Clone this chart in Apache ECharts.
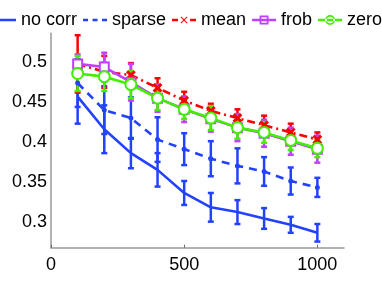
<!DOCTYPE html>
<html><head><meta charset="utf-8">
<script src="https://cdn.jsdelivr.net/npm/echarts@6/dist/echarts.min.js"></script>
<style>html,body{margin:0;padding:0;background:#fff}#c{width:382px;height:287px}</style>
</head><body><div id="c"></div>
<script>
const xs = [100,200,300,400,500,600,700,800,900,1000];
const seriesNames = ['no corr','sparse','mean','frob','zero'];
const noCorr     = [0.457,0.416,0.386,0.365,0.336,0.318,0.312,0.304,0.296,0.286];
const noCorrErr  = [0.034,0.030,0.019,0.021,0.015,0.018,0.015,0.013,0.010,0.011];
const sparse     = [0.474,0.440,0.430,0.403,0.391,0.379,0.370,0.363,0.351,0.343];
const sparseErr  = [0.030,0.030,0.026,0.028,0.020,0.022,0.022,0.018,0.017,0.012];
const mean       = [0.498,0.488,0.484,0.468,0.452,0.439,0.430,0.421,0.412,0.403];
const meanErr    = [0.036,0.020,0.015,0.012,0.011,0.009,0.011,0.012,0.011,0.009];
const frob       = [0.498,0.494,0.475,0.455,0.441,0.429,0.418,0.411,0.401,0.391];
const frobErr    = [0.012,0.018,0.023,0.017,0.016,0.016,0.017,0.017,0.017,0.017];
const zero       = [0.486,0.482,0.472,0.455,0.441,0.430,0.418,0.412,0.402,0.392];
const zeroErr    = [0.022,0.018,0.017,0.015,0.012,0.015,0.014,0.013,0.012,0.011];
const xTicks = [0,500,1000];
const yTicks = [0.3,0.35,0.4,0.45,0.5];

const colors = ['#2242ff','#2242ff','#ff0000','#c040ff','#44ee00'];
const vals = [noCorr,sparse,mean,frob,zero];
const errs = [noCorrErr,sparseErr,meanErr,frobErr,zeroErr];
const lineTypes = ['solid',[8,6],[8,4,2,4],'solid','solid'];
const xPath = 'path://M0,1L1,0L5,4L9,0L10,1L6,5L10,9L9,10L5,6L1,10L0,9L4,5Z';
const symbols = ['none','circle',xPath,'emptyRect','emptyCircle'];
const symSizes = [0,3,7,9,11];

// legend icons (24x12 box; tiny corner triangles fix the bounding box)
const C = 'M0,0L0.01,0L0,0.01Z M24,12L23.99,12L24,11.99Z ';
const legendIcons = [
  'path://' + C + 'M0,4.7H24V7.3H0Z',
  'path://' + C + 'M0,4.7H5V7.3H0Z M9.5,4.7H14.5V7.3H9.5Z M19,4.7H24V7.3H19Z',
  'path://' + C + 'M0,4.7H6V7.3H0Z M18,4.7H24V7.3H18Z M8.5,3.2L9.2,2.5L12,5.3L14.8,2.5L15.5,3.2L12.7,6L15.5,8.8L14.8,9.5L12,6.7L9.2,9.5L8.5,8.8L11.3,6Z',
  'path://' + C + 'M0,4.8H24V7.2H0Z M7.5,1.5H16.5V10.5H7.5Z M9.3,3.3V8.7H14.7V3.3Z',
  'path://' + C + 'M0,4.8H24V7.2H0Z M17,6A5,5 0 1,0 7,6A5,5 0 1,0 17,6Z M15.2,6A3.2,3.2 0 1,1 8.8,6A3.2,3.2 0 1,1 15.2,6Z'
];

function errSeries(i){
  return {
    type:'custom', silent:true,
    encode:{x:0,y:[1,2]},
    data: xs.map((x,k)=>[x, vals[i][k]-errs[i][k], vals[i][k]+errs[i][k]]),
    renderItem:(params,api)=>{
      const x=api.value(0);
      const lo=api.coord([x,api.value(1)]);
      const hi=api.coord([x,api.value(2)]);
      const w=3;
      const st={stroke:colors[i],lineWidth:2.5};
      return {type:'group',children:[
        {type:'line',shape:{x1:lo[0],y1:lo[1],x2:hi[0],y2:hi[1]},style:st},
        {type:'line',shape:{x1:lo[0]-w,y1:lo[1],x2:lo[0]+w,y2:lo[1]},style:st},
        {type:'line',shape:{x1:hi[0]-w,y1:hi[1],x2:hi[0]+w,y2:hi[1]},style:st}
      ]};
    }
  };
}
const series=[];
for(let i=0;i<5;i++){
  series.push(errSeries(i));
  series.push({
    type:'line', name:seriesNames[i],
    data: xs.map((x,k)=>[x, vals[i][k]]),
    symbol:symbols[i], symbolSize:symSizes[i], showSymbol:i>0,
    lineStyle:{color:colors[i],width:2.6,type:lineTypes[i]},
    itemStyle:{color:colors[i],borderColor:colors[i],borderWidth:2},
    animation:false
  });
}
const chart=echarts.init(document.getElementById('c'),null,{renderer:'canvas'});
chart.setOption({
  animation:false,
  backgroundColor:'#fff',
  legend:{
    data:seriesNames.map((n,i)=>({name:n,icon:legendIcons[i],itemStyle:{color:colors[i],borderWidth:0}})),
    left:-13, top:6, width:460, itemWidth:24, itemHeight:12, itemGap:6,
    itemStyle:{borderWidth:0},
    textStyle:{fontFamily:'Liberation Sans, Arial, sans-serif',fontSize:18,color:'#000'}
  },
  grid:{left:51,right:38,top:33.3,bottom:39.3,containLabel:false},
  xAxis:{
    type:'value', min:0, max:1100,
    axisLine:{lineStyle:{color:'#999',width:1.5}},
    axisTick:{inside:true,length:3,lineStyle:{color:'#666'},customValues:xTicks},
    axisLabel:{customValues:xTicks,fontFamily:'Liberation Sans, Arial, sans-serif',fontSize:18,color:'#000',margin:8,
      formatter:v=>String(v)},
    splitLine:{show:false}
  },
  yAxis:{
    type:'value', min:0.2673, max:0.5364,
    axisLine:{show:true,lineStyle:{color:'#999',width:1.5}},
    axisTick:{show:false,customValues:yTicks},
    axisLabel:{customValues:yTicks,fontFamily:'Liberation Sans, Arial, sans-serif',fontSize:18,color:'#000',margin:4,
      formatter:v=>String(+v.toFixed(2))},
    splitLine:{show:false}
  },
  series:series
});
</script></body></html>
